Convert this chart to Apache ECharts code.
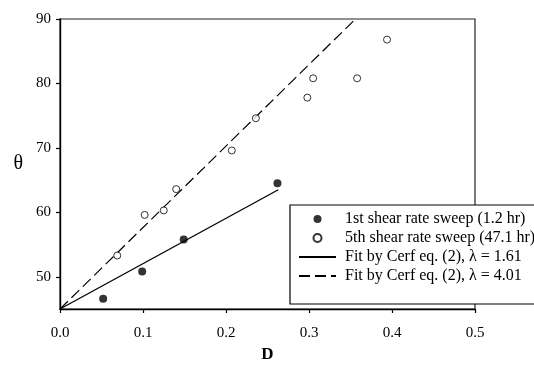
<!DOCTYPE html>
<html>
<head>
<meta charset="utf-8">
<script src="https://cdn.jsdelivr.net/npm/echarts@6/dist/echarts.min.js"></script>
<style>
  html, body { margin: 0; padding: 0; background: #fff; }
  #chart { width: 534px; height: 370px; }
</style>
</head>
<body>
<div id="chart"></div>
<script>
// Contact angle θ versus D for two shear rate sweeps, with Cerf fits
const sweep1D = [0.052, 0.099, 0.149, 0.262];
const sweep1Theta = [46.6, 50.8, 55.8, 64.5];

const sweep5D = [0.069, 0.102, 0.125, 0.140, 0.207, 0.236, 0.298, 0.305, 0.358, 0.394];
const sweep5Theta = [53.3, 59.6, 60.3, 63.6, 69.6, 74.6, 77.8, 80.8, 80.8, 86.8];

// Fit line end points (straight lines from the origin value)
const fit161D = [0, 0.263];
const fit161Theta = [45, 63.5];
const fit401D = [0, 0.356];
const fit401Theta = [45, 90];

const xTicks = [0, 0.1, 0.2, 0.3, 0.4, 0.5];
const yTicks = [50, 60, 70, 80, 90];

const seriesNames = [
  '1st shear rate sweep (1.2 hr)',
  '5th shear rate sweep (47.1 hr)',
  'Fit by Cerf eq. (2), λ = 1.61',
  'Fit by Cerf eq. (2), λ = 4.01'
];

const pairs = (xs, ys) => xs.map((x, i) => [x, ys[i]]);
const serif = 'Liberation Serif';
const clear = 'rgba(0,0,0,0)';

const chart = echarts.init(document.getElementById('chart'), null, { renderer: 'canvas' });

chart.setOption({
  animation: false,
  backgroundColor: '#fff',
  textStyle: { fontFamily: serif, color: '#000' },
  grid: {
    left: 60, right: 59, top: 19, bottom: 61,
    show: true, borderColor: '#222', borderWidth: 1.2, backgroundColor: 'transparent'
  },
  xAxis: {
    type: 'value', min: 0, max: 0.5, interval: 0.1,
    name: 'D', nameLocation: 'middle', nameGap: 37,
    nameTextStyle: { fontFamily: serif, fontSize: 17, fontWeight: 'bold', color: '#000' },
    axisLine: { show: true, onZero: false, lineStyle: { color: '#000', width: 1.4 } },
    axisTick: { show: true, inside: false, length: 4, lineStyle: { color: '#000', width: 1.2 }, customValues: xTicks },
    axisLabel: {
      fontFamily: serif, fontSize: 15, color: '#000', margin: 17,
      customValues: xTicks, formatter: v => v.toFixed(1)
    },
    splitLine: { show: false }
  },
  yAxis: {
    type: 'value', min: 45, max: 90,
    name: 'θ', nameLocation: 'middle', nameGap: 37, nameRotate: 0,
    nameTextStyle: { fontFamily: serif, fontSize: 20, color: '#000', padding: [0, 0, 28, 0] },
    axisLine: { show: true, onZero: false, lineStyle: { color: '#000', width: 1.4 } },
    axisTick: { show: true, inside: false, length: 4, lineStyle: { color: '#000', width: 1.2 }, customValues: yTicks },
    axisLabel: { fontFamily: serif, fontSize: 15, color: '#000', margin: 9, customValues: yTicks },
    splitLine: { show: false }
  },
  legend: {
    orient: 'vertical',
    left: 290, top: 205,
    padding: [6, 40, 20, 8],
    itemWidth: 37, itemHeight: 8, itemGap: 3,
    backgroundColor: '#fff',
    borderColor: '#000', borderWidth: 1.2,
    textStyle: { fontFamily: serif, fontSize: 16, color: '#000', lineHeight: 16, padding: [0, 0, 0, 4] },
    data: [
      { name: seriesNames[0] },
      { name: seriesNames[1] },
      { name: seriesNames[2], itemStyle: { color: clear, borderColor: clear, borderWidth: 0 } },
      { name: seriesNames[3], itemStyle: { color: clear, borderColor: clear, borderWidth: 0 } }
    ]
  },
  series: [
    {
      name: seriesNames[0], type: 'scatter',
      symbol: 'circle', symbolSize: 8,
      itemStyle: { color: '#000' },
      data: pairs(sweep1D, sweep1Theta), z: 3
    },
    {
      name: seriesNames[1], type: 'scatter',
      symbol: 'circle', symbolSize: 7,
      itemStyle: { color: '#fff', borderColor: '#000', borderWidth: 1 },
      data: pairs(sweep5D, sweep5Theta), z: 3
    },
    {
      name: seriesNames[2], type: 'line',
      symbol: 'none', showSymbol: false,
      lineStyle: { color: '#000', width: 1.3, type: 'solid' },
      itemStyle: { color: clear },
      data: pairs(fit161D, fit161Theta), z: 2
    },
    {
      name: seriesNames[3], type: 'line',
      symbol: 'none', showSymbol: false,
      lineStyle: { color: '#000', width: 1.2, type: [11, 5] },
      itemStyle: { color: clear },
      data: pairs(fit401D, fit401Theta), z: 2
    }
  ]
});
</script>
</body>
</html>
